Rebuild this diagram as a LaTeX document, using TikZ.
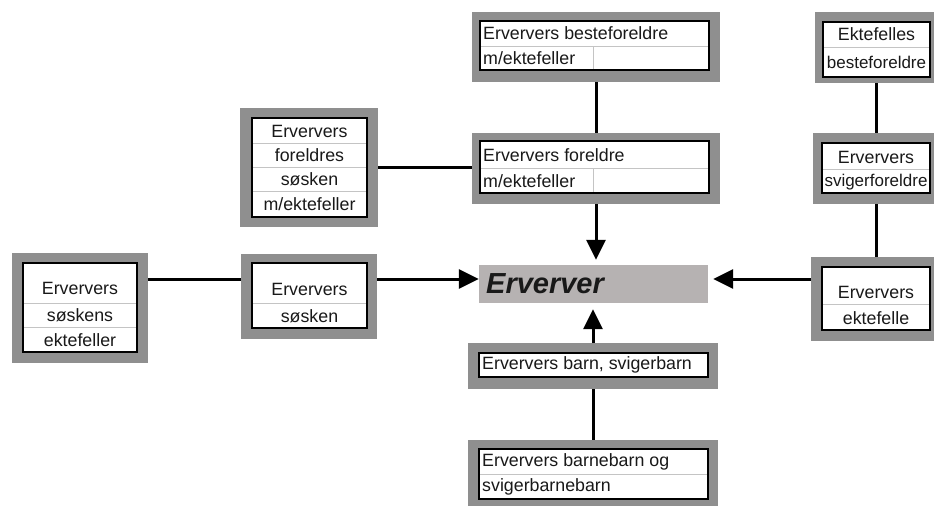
\documentclass[tikz,border=0pt]{standalone}
\usepackage{fontspec}
\setmainfont{Liberation Sans}
\usetikzlibrary{fit,arrows.meta}
\definecolor{framegray}{HTML}{8F8F8F}
\definecolor{ergray}{HTML}{B6B2B2}
\definecolor{sepgray}{HTML}{C4C4C4}
\begin{document}
\begin{tikzpicture}[x=1pt,y=-1pt,
  frame/.style={fill=framegray, inner sep=0pt, draw=none},
  inbox/.style={fill=white, draw=black, line width=1.6pt, inner sep=0pt},
  sepline/.style={draw=sepgray, line width=0.8pt},
  txt/.style={inner sep=0pt, text=black!90, font=\fontsize{17.8}{20}\selectfont},
  conn/.style={line width=3pt},
  arr/.style={line width=3pt, -{Triangle[length=20pt,width=19pt]}}]
\useasboundingbox (0,0) rectangle (934,506);
\fill[white] (0,0) rectangle (934,506);

% Erververs besteforeldre
\node[frame, fit={(472,12)(720,82)}] (bf) {};
\node[inbox, fit={(480,21)(709,70)}] (bfi) {};
\draw[sepline] (481,46) -- (708,46) (593,46) -- (593,69);
\node[txt, anchor=west] (bft1) at (483,33.5) {Erververs besteforeldre};
\node[txt, anchor=west] (bft2) at (483,58) {m/ektefeller};

% Erververs foreldre
\node[frame, fit={(472,133)(720,204)}] (fo) {};
\node[inbox, fit={(480,141)(709,193)}] (foi) {};
\draw[sepline] (481,168) -- (708,168) (593,168) -- (593,192);
\node[txt, anchor=west] (fot1) at (483,155) {Erververs foreldre};
\node[txt, anchor=west] (fot2) at (483,181) {m/ektefeller};

% Erververs foreldres soesken
\node[frame, fit={(240,108)(378,227)}] (fs) {};
\node[inbox, fit={(252,118)(367,217)}] (fsi) {};
\draw[sepline] (253,143) -- (366,143) (253,167) -- (366,167) (253,191) -- (366,191);
\node[txt] (fst1) at (309.5,131) {Erververs};
\node[txt] (fst2) at (309.5,155) {foreldres};
\node[txt] (fst3) at (309.5,179) {søsken};
\node[txt] (fst4) at (309.5,204) {m/ektefeller};

% Erververs soeskens ektefeller
\node[frame, fit={(12,253)(148,363)}] (se) {};
\node[inbox, fit={(23,263)(137,352)}] (sei) {};
\draw[sepline] (24,303) -- (136,303) (24,327) -- (136,327);
\node[txt] (set1) at (80,288) {Erververs};
\node[txt] (set2) at (80,315) {søskens};
\node[txt] (set3) at (80,340) {ektefeller};

% Erververs soesken
\node[frame, fit={(241,254)(377,339)}] (so) {};
\node[inbox, fit={(252,263)(367,328)}] (soi) {};
\draw[sepline] (253,303) -- (366,303);
\node[txt] (sot1) at (309.5,289) {Erververs};
\node[txt] (sot2) at (309.5,316) {søsken};

% Erverver
\node[fill=ergray, inner sep=0pt, fit={(479,265)(708,303)}] (er) {};
\node[inner sep=0pt, anchor=west, text=black!90, font=\fontsize{29}{32}\selectfont\bfseries\itshape] (ert) at (486,284) {Erverver};

% Erververs barn, svigerbarn
\node[frame, fit={(468,343)(718,389)}] (ba) {};
\node[inbox, fit={(479,353)(708,377)}] (bai) {};
\node[txt, anchor=west] (bat) at (482,365) {Erververs barn, svigerbarn};

% Erververs barnebarn og svigerbarnebarn
\node[frame, fit={(468,440)(718,506)}] (bb) {};
\node[inbox, fit={(479,449)(708,499)}] (bbi) {};
\draw[sepline] (480,474) -- (707,474);
\node[txt, anchor=west] (bbt1) at (482,462) {Erververs barnebarn og};
\node[txt, anchor=west] (bbt2) at (482,487) {svigerbarnebarn};

% Ektefelles besteforeldre
\node[frame, fit={(815,12)(934,83)}] (eb) {};
\node[inbox, fit={(823,22)(930,77)}] (ebi) {};
\draw[sepline] (824,47) -- (929,47);
\node[txt] (ebt1) at (876.5,34) {Ektefelles};
\node[txt, font=\fontsize{17}{20}\selectfont] (ebt2) at (876.5,62) {besteforeldre};

% Erververs svigerforeldre
\node[frame, fit={(813,133)(934,204)}] (sv) {};
\node[inbox, fit={(822,143)(930,193)}] (svi) {};
\draw[sepline] (823,169) -- (929,169);
\node[txt] (svt1) at (876,157) {Erververs};
\node[txt, font=\fontsize{17}{20}\selectfont] (svt2) at (876,182) {svigerforeldre};

% Erververs ektefelle
\node[frame, fit={(811,257)(934,341)}] (ek) {};
\node[inbox, fit={(822,267)(930,330)}] (eki) {};
\draw[sepline] (823,304) -- (929,304);
\node[txt] (ekt1) at (876,292) {Erververs};
\node[txt] (ekt2) at (876,318) {ektefelle};

% connectors
\coordinate (hl) at (0,279);
\draw[conn] (bf.south) -- (fo.north);
\draw[conn] (fs.east) -- (fs.east -| fo.west);
\draw[conn] (se.east |- hl) -- (so.west |- hl);
\draw[arr] (so.east |- hl) -- (er.west |- hl);
\draw[arr, shorten >=5pt] (fo.south) -- (fo.south |- er.north);
\draw[arr, shorten >=6pt] (ba.north) -- (ba.north |- er.south);
\draw[conn] (bb.north) -- (ba.south);
\draw[arr, shorten >=5pt] (ek.west |- hl) -- (er.east |- hl);
\coordinate (rx) at (876,0);
\draw[conn] (eb.south -| rx) -- (sv.north -| rx);
\draw[conn] (sv.south -| rx) -- (ek.north -| rx);
\end{tikzpicture}
\end{document}
